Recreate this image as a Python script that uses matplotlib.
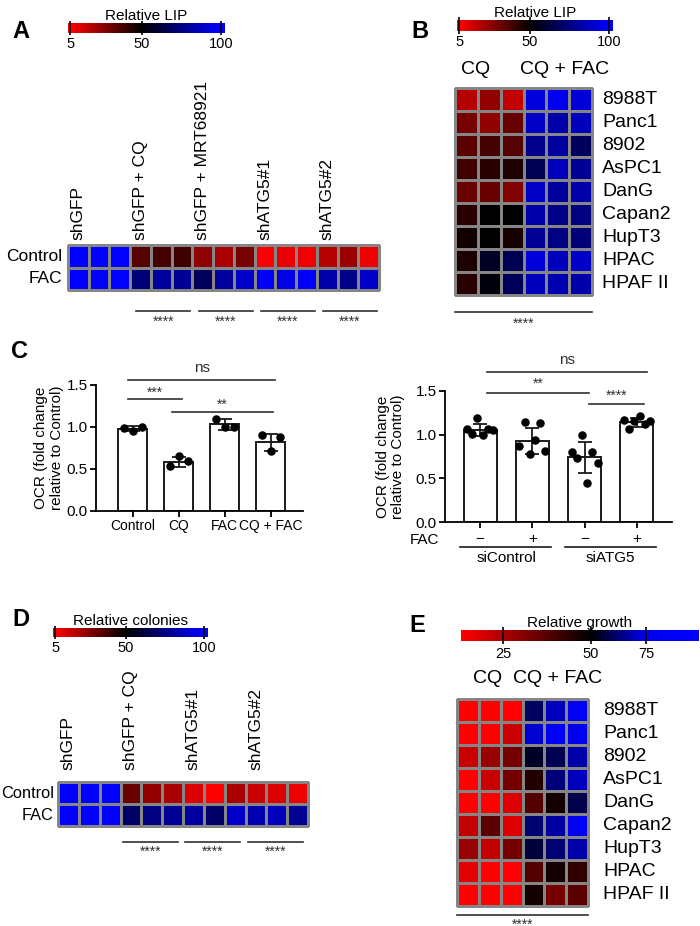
import numpy as np
import matplotlib.pyplot as plt
import matplotlib.transforms as mtransforms
from matplotlib.colors import LinearSegmentedColormap, Normalize

plt.rcParams['font.family'] = ['Liberation Sans', 'DejaVu Sans']

# ---- data ----
a_groups = ['shGFP', 'shGFP + CQ', 'shGFP + MRT68921', 'shATG5#1', 'shATG5#2']
a_rows = ['Control', 'FAC']
a_vals = [[100, 100, 100, 35, 38, 39, 25, 20, 29, 6, 9, 8, 18, 23, 8],
          [100, 98, 100, 73, 81, 79, 68, 81, 89, 99, 95, 99, 83, 77, 89]]

cell_lines = ['8988T', 'Panc1', '8902', 'AsPC1', 'DanG', 'Capan2', 'HupT3', 'HPAC', 'HPAF II']
b_vals = [[18, 24, 16, 93, 97, 92],
          [29, 25, 32, 89, 83, 87],
          [34, 38, 35, 77, 81, 68],
          [39, 43, 45, 66, 87, 79],
          [31, 32, 27, 89, 81, 83],
          [43, 50, 50, 83, 77, 75],
          [47, 50, 46, 79, 75, 73],
          [45, 57, 66, 93, 87, 89],
          [43, 52, 68, 87, 85, 83]]

ocr_groups = ['Control', 'CQ', 'FAC', 'CQ + FAC']
ocr_mean = [0.98, 0.58, 1.03, 0.82]
ocr_sd = [0.03, 0.06, 0.06, 0.10]
ocr_pts = [[0.99, 0.95, 1.00], [0.53, 0.65, 0.60], [1.10, 1.00, 1.00], [0.90, 0.72, 0.88]]

si_fac = ['\u2212', '+', '\u2212', '+']
si_groups = ['siControl', 'siATG5']
si_mean = [1.05, 0.93, 0.74, 1.14]
si_sd = [0.07, 0.15, 0.18, 0.05]
si_pts = [[1.07, 1.01, 1.19, 1.00, 1.06, 1.05],
          [0.87, 1.14, 0.78, 0.94, 1.13, 0.81],
          [0.80, 0.73, 1.00, 0.45, 0.80, 0.67],
          [1.17, 1.07, 1.16, 1.21, 1.12, 1.16]]

d_groups = ['shGFP', 'shGFP + CQ', 'shATG5#1', 'shATG5#2']
d_vals = [[100, 100, 100, 31, 24, 20, 11, 5, 20, 15, 11, 8],
          [100, 100, 100, 70, 75, 79, 81, 70, 89, 85, 87, 79]]

e_vals = [[13, 13, 13, 60, 70, 85],
          [13, 13, 21, 72, 90, 80],
          [21, 28, 33, 54, 59, 68],
          [13, 21, 33, 45, 63, 70],
          [13, 13, 18, 38, 47, 58],
          [22, 37, 18, 62, 67, 85],
          [28, 22, 33, 56, 62, 68],
          [17, 13, 13, 38, 47, 43],
          [13, 13, 13, 47, 33, 37]]

W, H = 700, 926
fig = plt.figure(figsize=(7, 9.26), dpi=100)


def px_axes(x0, y0, x1, y1):
    return fig.add_axes([x0 / W, 1 - y1 / H, (x1 - x0) / W, (y1 - y0) / H])


def px_text(x, y, s, **kw):
    fig.text(x / W, 1 - y / H, s, **kw)


# colour maps
lip_norm = Normalize(5, 100)
lip_cmap = LinearSegmentedColormap.from_list(
    'lip', [(0, (1, 0, 0)), (45 / 95, (0, 0, 0)), (1, (0, 0, 1))])
grow_norm = Normalize(13, 99)
grow_cmap = LinearSegmentedColormap.from_list(
    'grow', [(0, (1, 0, 0)), (37 / 86, (0, 0, 0)), (62 / 86, (0, 0, 0.93)), (1, (0, 0, 1))])


def heatmap(box, values, cmap, norm):
    ax = px_axes(*box)
    v = np.array(values, dtype=float)
    m = ax.pcolormesh(v, cmap=cmap, norm=norm, edgecolors='#858585', linewidth=0.9)
    m.set_clip_on(False)
    ax.set_xlim(0, v.shape[1])
    ax.set_ylim(v.shape[0], 0)
    ax.axis('off')
    return ax


def colorbar(box, cmap, norm, lo, hi, ticks, title, pad=3, scale=None):
    ax = px_axes(*box)
    if scale is not None:
        ax.set_xscale('function', functions=scale)
    edges = np.linspace(lo, hi, 300)
    mids = (edges[:-1] + edges[1:]) / 2
    ax.pcolormesh(edges, [0, 1], mids[None, :], cmap=cmap, norm=norm)
    ax.set_xlim(lo, hi)
    ax.set_ylim(0, 1)
    ax.vlines(ticks, -0.25, 1.25, color='k', lw=1.2, clip_on=False)
    ax.set_xticks(ticks)
    ax.set_xticklabels([str(t) for t in ticks])
    ax.tick_params(length=0, labelsize=10.5, pad=pad)
    ax.set_yticks([])
    for s in ax.spines.values():
        s.set_visible(False)
    ax.set_title(title, fontsize=11, pad=2)
    return ax


def sig_line(ax, x0, x1, y, label, ty, fs=10):
    ax.plot([x0, x1], [y, y], color='#303030', lw=1.2, clip_on=False)
    ax.text((x0 + x1) / 2, ty, label, ha='center', va='center', fontsize=fs, color='#303030')


def style_bar_axes(ax):
    ax.set_ylim(0, 1.5)
    ax.set_yticks([0, 0.5, 1.0, 1.5])
    for s in ['top', 'right']:
        ax.spines[s].set_visible(False)
    for s in ['left', 'bottom']:
        ax.spines[s].set_linewidth(1.3)
    ax.tick_params(width=1.3, length=4, pad=2, labelsize=11)


# ---- panel A ----
px_text(21, 31, 'A', fontsize=17, fontweight='bold', ha='center', va='center')
colorbar((68, 23, 225, 33), lip_cmap, lip_norm, 3.7, 102.5, [5, 50, 100], 'Relative LIP')
axA = heatmap((68, 245, 379, 290), a_vals, lip_cmap, lip_norm)
for g, name in enumerate(a_groups):
    axA.text(g * 3 + 0.5, -0.2, name, rotation=90, ha='center', va='bottom', fontsize=12.5)
for r, name in enumerate(a_rows):
    axA.text(-0.28, r + 0.5, name, ha='right', va='center', fontsize=12.5)
for g in range(1, 5):
    sig_line(axA, g * 3 + 0.3, g * 3 + 2.9, 2.93, '****', 3.4)

# ---- panel B ----
px_text(420, 31, 'B', fontsize=17, fontweight='bold', ha='center', va='center')
colorbar((457, 20, 613, 31), lip_cmap, lip_norm, 3.7, 102.5, [5, 50, 100], 'Relative LIP')
axB = heatmap((455, 88, 592, 295), b_vals, lip_cmap, lip_norm)
axB.text(0.9, -0.8, 'CQ', ha='center', va='center', fontsize=14)
axB.text(4.8, -0.8, 'CQ + FAC', ha='center', va='center', fontsize=14)
for r, name in enumerate(cell_lines):
    axB.text(6.45, r + 0.5, name, ha='left', va='center', fontsize=14)
sig_line(axB, 0, 6, 9.74, '****', 10.25)

# ---- panel C left ----
px_text(20, 351, 'C', fontsize=17, fontweight='bold', ha='center', va='center')
axC = px_axes(96, 385, 303, 511)
xs = np.arange(len(ocr_groups))
axC.bar(xs, ocr_mean, width=0.63, color='white', edgecolor='#1a1a1a', linewidth=1.4, zorder=1)
axC.errorbar(xs, ocr_mean, yerr=ocr_sd, fmt='none', ecolor='#1a1a1a', elinewidth=1.3,
             capsize=5, capthick=1.3, zorder=3)
for i, pts in enumerate(ocr_pts):
    off = np.linspace(-0.2, 0.2, len(pts))
    axC.scatter(xs[i] + off, pts, s=26, color='k', zorder=4)
axC.set_xlim(-0.8, 3.7)
style_bar_axes(axC)
axC.set_xticks(xs)
axC.set_xticklabels(ocr_groups)
axC.tick_params(axis='x', labelsize=10)
axC.get_xticklabels()[3].set_x(0.1)
axC.set_ylabel('OCR (fold change\nrelative to Control)', fontsize=11, linespacing=1.15)
axC.yaxis.set_label_coords(-0.155, 0.5)
sig_line(axC, -0.1, 3.1, 1.56, 'ns', 1.7, fs=11)
sig_line(axC, -0.1, 1.07, 1.33, '***', 1.41)
sig_line(axC, 0.85, 3.04, 1.18, '**', 1.27)

# ---- panel C right ----
axS = px_axes(445, 391, 672, 522)
axS.bar(xs, si_mean, width=0.63, color='white', edgecolor='#1a1a1a', linewidth=1.4, zorder=1)
axS.errorbar(xs, si_mean, yerr=si_sd, fmt='none', ecolor='#1a1a1a', elinewidth=1.3,
             capsize=5, capthick=1.3, zorder=3)
for i, pts in enumerate(si_pts):
    off = np.linspace(-0.25, 0.25, len(pts))
    axS.scatter(xs[i] + off, pts, s=26, color='k', zorder=4)
axS.set_xlim(-0.67, 3.67)
style_bar_axes(axS)
axS.set_xticks(xs)
axS.set_xticklabels([])
axS.set_ylabel('OCR (fold change\nrelative to Control)', fontsize=11, linespacing=1.15)
axS.yaxis.set_label_coords(-0.175, 0.5)
sig_line(axS, 0.13, 3.19, 1.72, 'ns', 1.85, fs=11)
sig_line(axS, 0.13, 2.08, 1.48, '**', 1.58)
sig_line(axS, 2.08, 3.14, 1.35, '****', 1.45)
tr = mtransforms.blended_transform_factory(axS.transData, fig.transFigure)
px_text(425, 540, 'FAC', fontsize=11, ha='center', va='center')
for i, sgn in enumerate(si_fac):
    axS.text(xs[i], 1 - 539 / H, sgn, transform=tr, ha='center', va='center', fontsize=11)
for g, name in enumerate(si_groups):
    x0, x1 = g * 2 - 0.38, g * 2 + 1.36
    axS.plot([x0, x1], [1 - 547 / H] * 2, transform=tr, color='#1a1a1a', lw=1.2, clip_on=False)
    axS.text(g * 2 + 0.5, 1 - 558 / H, name, transform=tr, ha='center', va='center', fontsize=11)

# ---- panel D ----
px_text(21, 619, 'D', fontsize=17, fontweight='bold', ha='center', va='center')
colorbar((53, 628, 208, 637), lip_cmap, lip_norm, 3.7, 102.5, [5, 50, 100], 'Relative colonies')
axD = heatmap((58, 782, 308, 826), d_vals, lip_cmap, lip_norm)
for g, name in enumerate(d_groups):
    axD.text(g * 3 + 0.5, -0.55, name, rotation=90, ha='center', va='bottom', fontsize=12.5)
for r, name in enumerate(a_rows):
    axD.text(-0.2, r + 0.5, name, ha='right', va='center', fontsize=11.8)
for g in range(1, 4):
    sig_line(axD, g * 3 + 0.1, g * 3 + 2.75, 2.73, '****', 3.15)

# ---- panel E ----
px_text(417, 626, 'E', fontsize=17, fontweight='bold', ha='center', va='center')
e_ticks_v = [13, 25, 50, 75, 99]
e_ticks_p = [0, 42, 130, 185, 238]
colorbar((461, 630, 699, 641), grow_cmap, grow_norm, 13, 99, [25, 50, 75], 'Relative growth',
         pad=4, scale=(lambda v: np.interp(v, e_ticks_v, e_ticks_p),
                       lambda p: np.interp(p, e_ticks_p, e_ticks_v)))
axE = heatmap((457, 699, 588, 906), e_vals, grow_cmap, grow_norm)
axE.text(1.38, -0.9, 'CQ', ha='center', va='center', fontsize=14)
axE.text(4.6, -0.9, 'CQ + FAC', ha='center', va='center', fontsize=14)
for r, name in enumerate(cell_lines):
    axE.text(6.69, r + 0.5, name, ha='left', va='center', fontsize=14)
sig_line(axE, 0, 6, 9.39, '****', 9.8)

fig.savefig('out.png', dpi=100)
